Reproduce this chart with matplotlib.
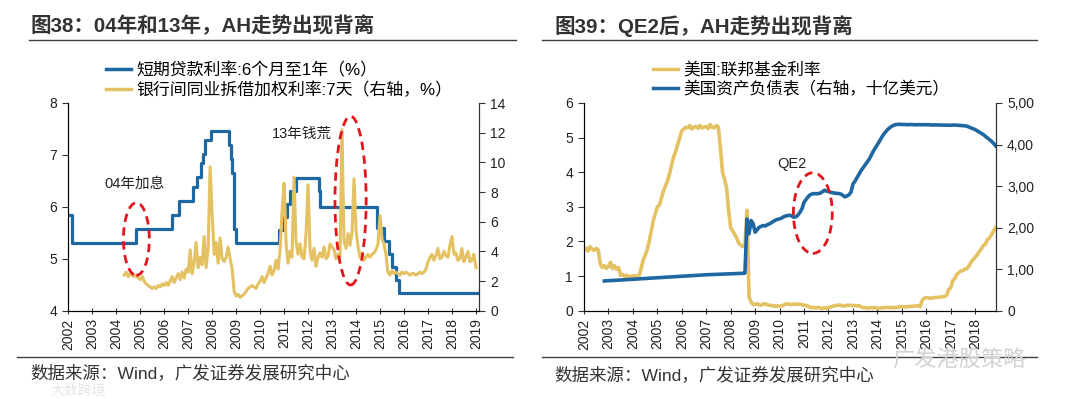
import numpy as np
import pandas as pd
import matplotlib
matplotlib.use("Agg")
import matplotlib.pyplot as plt
import matplotlib.dates as mdates
from matplotlib.patches import Ellipse
from matplotlib.lines import Line2D

plt.rcParams['font.family'] = ['Liberation Sans', 'Noto Sans CJK SC', 'DejaVu Sans']

# ---------------------------------------------------------------------------
# Dane – wykres lewy (Chiny)
# ---------------------------------------------------------------------------
loan_dates = ['2002-01-01', '2002-02-21', '2004-10-29', '2006-04-28', '2006-08-19',
              '2007-03-18', '2007-05-19', '2007-07-21', '2007-08-22', '2007-09-15',
              '2007-12-21', '2008-09-16', '2008-10-09', '2008-10-30', '2008-11-27',
              '2008-12-23', '2010-10-20', '2010-12-26', '2011-02-09', '2011-04-06',
              '2011-07-07', '2012-06-08', '2012-07-06', '2014-11-22', '2015-03-01',
              '2015-05-11', '2015-06-28', '2015-08-26', '2015-10-24', '2019-01-20']
loan_rate = [5.85, 5.31, 5.58, 5.85, 6.12, 6.39, 6.57, 6.84, 7.02, 7.29,
             7.47, 7.20, 6.93, 6.66, 5.58, 5.31, 5.56, 5.81, 6.06, 6.31,
             6.56, 6.31, 6.00, 5.60, 5.35, 5.10, 4.85, 4.60, 4.35, 4.35]

interbank_start = '2004-05-01'   # miesięcznie
interbank_rate = [
    2.4, 2.6, 2.3, 2.5, 2.4, 2.3, 2.4, 2.2,                          # 2004 V-XII
    2.1, 2.3, 2.0, 1.8, 1.7, 1.6, 1.5, 1.6, 1.5, 1.7, 1.6, 1.8,      # 2005
    1.7, 1.9, 1.7, 2.0, 2.3, 1.9, 2.2, 2.5, 2.1, 2.6, 2.2, 2.8,      # 2006
    2.6, 4.1, 2.5, 3.2, 4.6, 2.9, 3.6, 3.1, 5.0, 2.9, 4.2, 9.7,      # 2007
    6.5, 3.8, 4.6, 3.2, 4.9, 3.5, 3.3, 3.6, 4.3, 3.5, 2.8, 1.3,      # 2008
    1.0, 1.1, 0.9, 1.0, 1.1, 1.3, 1.5, 1.6, 1.7, 1.6, 1.5, 1.8,      # 2009
    2.0, 2.3, 1.9, 2.2, 2.5, 3.0, 2.4, 2.7, 3.4, 2.8, 4.1, 6.7,      # 2010
    8.6, 4.5, 3.2, 4.0, 3.6, 9.0, 4.7, 3.8, 4.5, 3.6, 3.5, 5.2,      # 2011
    8.5, 4.0, 3.4, 4.2, 3.0, 3.6, 3.9, 3.6, 4.3, 3.5, 3.7, 4.5,      # 2012
    4.3, 4.1, 3.5, 3.8, 3.6, 12.2, 4.7, 4.2, 5.2, 4.4, 5.3, 8.9,     # 2013
    5.4, 4.3, 3.6, 3.9, 3.4, 3.6, 3.8, 3.6, 3.8, 3.9, 4.1, 4.5,      # 2014
    6.4, 4.8, 4.5, 3.8, 2.6, 2.4, 2.7, 2.5, 2.6, 2.5, 2.4, 2.6,      # 2015
    2.5, 2.6, 2.5, 2.4, 2.5, 2.5, 2.4, 2.5, 2.6, 2.5, 2.6, 2.8,      # 2016
    3.3, 3.6, 3.8, 3.4, 3.7, 4.2, 3.5, 3.6, 4.0, 3.7, 3.6, 4.4,      # 2017
    5.0, 3.8, 3.9, 3.4, 3.5, 4.2, 3.3, 3.6, 4.0, 3.3, 3.4, 3.8,      # 2018
    2.9,                                                             # 2019 I
]

# ---------------------------------------------------------------------------
# Dane – wykres prawy (USA)
# ---------------------------------------------------------------------------
fed_start = '2002-01-01'   # miesięcznie
fed_funds = [
    1.75, 1.80, 1.72, 1.85, 1.78, 1.74, 1.80, 1.76, 1.35, 1.25, 1.30, 1.22,   # 2002
    1.28, 1.40, 1.22, 1.30, 1.20, 1.25, 1.02, 1.05, 0.98, 1.03, 0.96, 1.00,   # 2003
    1.00, 1.02, 0.98, 1.00, 1.20, 1.45, 1.60, 1.75, 2.00, 2.30, 2.60, 2.80,   # 2004
    3.00, 3.05, 3.25, 3.45, 3.60, 3.75, 3.95, 4.20, 4.45, 4.60, 4.80, 5.00,   # 2005
    5.20, 5.25, 5.30, 5.28, 5.35, 5.25, 5.30, 5.32, 5.27, 5.35, 5.28, 5.30,   # 2006
    5.32, 5.26, 5.38, 5.30, 5.28, 5.35, 5.30, 4.70, 4.00, 3.80, 3.55, 2.90,   # 2007
    2.40, 2.30, 2.20, 2.10, 1.95, 1.90, 1.85, 1.90, 2.90, 0.40, 0.25, 0.18,   # 2008
    0.18, 0.20, 0.17, 0.16, 0.19, 0.20, 0.17, 0.16, 0.15, 0.14, 0.13, 0.14,   # 2009
    0.13, 0.14, 0.16, 0.19, 0.20, 0.18, 0.18, 0.19, 0.19, 0.18, 0.19, 0.17,   # 2010
    0.16, 0.15, 0.13, 0.10, 0.09, 0.09, 0.08, 0.10, 0.08, 0.07, 0.08, 0.07,   # 2011
    0.09, 0.10, 0.13, 0.14, 0.16, 0.16, 0.16, 0.13, 0.14, 0.16, 0.15, 0.16,   # 2012
    0.14, 0.15, 0.14, 0.15, 0.11, 0.09, 0.09, 0.08, 0.08, 0.09, 0.08, 0.09,   # 2013
    0.07, 0.07, 0.08, 0.09, 0.09, 0.10, 0.09, 0.09, 0.09, 0.09, 0.09, 0.12,   # 2014
    0.11, 0.11, 0.11, 0.12, 0.12, 0.13, 0.13, 0.14, 0.14, 0.12, 0.30, 0.36,   # 2015
    0.38, 0.37, 0.36, 0.37, 0.38, 0.38, 0.39, 0.40, 0.40, 0.41, 0.45, 0.62,   # 2016
    0.66, 0.88, 0.92, 1.05, 1.10, 1.15, 1.16, 1.20, 1.22, 1.30, 1.40, 1.48,   # 2017
    1.55, 1.62, 1.70, 1.78, 1.88, 1.92, 2.05, 2.10, 2.20, 2.30, 2.40,         # 2018
]

balance_start = '2002-11-01'   # miesięcznie, mld USD
balance_sheet = [
    715, 720,                                                                 # 2002
    722, 724, 727, 730, 733, 736, 739, 742, 745, 748, 751, 754,               # 2003
    757, 760, 763, 766, 769, 772, 775, 778, 781, 784, 787, 790,               # 2004
    793, 796, 799, 802, 805, 808, 811, 814, 817, 820, 823, 826,               # 2005
    829, 832, 835, 838, 841, 844, 847, 850, 853, 856, 859, 862,               # 2006
    865, 867, 869, 871, 873, 875, 877, 879, 881, 883, 885, 887,               # 2007
    889, 891, 893, 895, 897, 899, 900, 905, 2210, 1850, 2170, 2100,           # 2008
    1890, 1950, 2010, 2030, 2050, 2040, 2070, 2090, 2120, 2150, 2180, 2200,   # 2009
    2210, 2230, 2260, 2280, 2290, 2300, 2280, 2250, 2260, 2300, 2370, 2450,   # 2010
    2610, 2680, 2740, 2790, 2810, 2820, 2815, 2820, 2830, 2860, 2900, 2880,   # 2011
    2870, 2850, 2840, 2830, 2825, 2820, 2810, 2780, 2740, 2760, 2790, 2850,   # 2012
    3050, 3120, 3200, 3290, 3370, 3440, 3510, 3580, 3650, 3740, 3840, 3920,   # 2013
    4000, 4080, 4160, 4240, 4300, 4360, 4400, 4440, 4460, 4480, 4485, 4490,   # 2014
    4480, 4485, 4480, 4478, 4482, 4480, 4478, 4475, 4480, 4478, 4476, 4480,   # 2015
    4475, 4478, 4472, 4470, 4474, 4470, 4472, 4468, 4470, 4466, 4468, 4465,   # 2016
    4465, 4468, 4470, 4466, 4462, 4460, 4455, 4450, 4440, 4420, 4400, 4380,   # 2017
    4360, 4330, 4300, 4270, 4240, 4200, 4160, 4120, 4080, 4030, 3970,         # 2018
]
balance_ticks = [0, 1000, 2000, 3000, 4000, 5000]
balance_labels = ['0', '1,00', '2,00', '3,00', '4,00', '5,00']

BLUE = '#1f67a0'
GOLD = '#e4c263'
RED = '#e3151c'
TXT = '#222222'


def yr(y):
    """Rok dziesiętny -> Timestamp."""
    return pd.Timestamp(int(y), 1, 1) + pd.Timedelta(days=(y - int(y)) * 365.25)


def style_axes(ax, axr, years):
    ax.spines['top'].set_visible(False)
    axr.spines['top'].set_visible(False)
    for sp in ['left', 'bottom']:
        ax.spines[sp].set_color('#333333')
    axr.spines['right'].set_color('#333333')
    ax.tick_params(axis='y', direction='out', length=4, pad=4, labelsize=10,
                   colors='#333333', labelcolor=TXT)
    axr.tick_params(axis='y', direction='out', length=4, pad=4, labelsize=10,
                    colors='#333333', labelcolor=TXT)
    ax.set_xticks([pd.Timestamp(y, 1, 1) for y in years])
    ax.xaxis.set_major_formatter(mdates.DateFormatter('%Y'))
    ax.tick_params(axis='x', direction='inout', length=5, pad=3, labelsize=10,
                   colors='#333333', labelcolor=TXT, labelrotation=90)


fig = plt.figure(figsize=(10.8, 3.99), dpi=100)
W, H = 1080.0, 399.0

# ---------------------------------------------------------------------------
# Lewy wykres
# ---------------------------------------------------------------------------
ax1 = fig.add_axes([68.3 / W, 1 - 310.7 / H, (479.3 - 68.3) / W, (310.7 - 103) / H])
ax1r = ax1.twinx()

ax1.plot(pd.to_datetime(loan_dates), loan_rate, color=BLUE, lw=2.3,
         drawstyle='steps-post')
ib_x = pd.date_range(interbank_start, periods=len(interbank_rate), freq='MS')
ax1r.plot(ib_x, interbank_rate, color=GOLD, lw=2.2)

ax1.set_ylim(4, 8)
ax1.set_yticks([4, 5, 6, 7, 8])
ax1r.set_ylim(0, 14)
ax1r.set_yticks(range(0, 15, 2))
ax1.set_xlim(pd.Timestamp('2002-01-01'), yr(2019.14))
style_axes(ax1, ax1r, range(2002, 2020))

for cx, cy, w, h in [(2004.84, 5.38, 1.08, 1.40), (2013.77, 6.12, 1.30, 3.25)]:
    ax1r.add_patch(Ellipse((mdates.date2num(yr(cx)), cy), w * 365.25, h,
                           transform=ax1.transData, fill=False, edgecolor=RED,
                           lw=2.0, linestyle=(0, (3, 2)), zorder=5))
ax1.text(yr(2003.51), 6.44, '04年加息', fontsize=10.5, color=TXT, va='center', ha='left')
ax1.text(yr(2010.50), 7.41, '13年钱荒', fontsize=10.5, color=TXT, va='center', ha='left')

# ---------------------------------------------------------------------------
# Prawy wykres
# ---------------------------------------------------------------------------
ax2 = fig.add_axes([584 / W, 1 - 310.7 / H, (996 - 584) / W, (310.7 - 103) / H])
ax2r = ax2.twinx()

fed_x = pd.date_range(fed_start, periods=len(fed_funds), freq='MS')
ax2.plot(fed_x, fed_funds, color=GOLD, lw=2.6)
bs_x = pd.date_range(balance_start, periods=len(balance_sheet), freq='MS')
ax2r.plot(bs_x, balance_sheet, color=BLUE, lw=2.6)

ax2.set_ylim(0, 6)
ax2.set_yticks(range(0, 7))
ax2r.set_ylim(0, 5000)
ax2r.set_yticks(balance_ticks)
ax2r.set_yticklabels(balance_labels)
ax2.set_xlim(pd.Timestamp('2002-01-01'), yr(2018.85))
style_axes(ax2, ax2r, range(2002, 2019))

ax2r.add_patch(Ellipse((mdates.date2num(yr(2011.36)), 2.82), 1.59 * 365.25, 2.33,
                       transform=ax2.transData, fill=False, edgecolor=RED,
                       lw=2.0, linestyle=(0, (3, 2)), zorder=5))
ax2.text(yr(2010.51), 4.23, 'QE2', fontsize=10.5, color=TXT, va='center', ha='center')

# ---------------------------------------------------------------------------
# Legendy
# ---------------------------------------------------------------------------
leg_kw = dict(loc='upper left', frameon=False, handlelength=1.5,
              handletextpad=0.3, labelspacing=0.2, borderpad=0, borderaxespad=0)
fig.legend([Line2D([], [], color=BLUE, lw=2.5), Line2D([], [], color=GOLD, lw=2.5)],
           ['短期贷款利率:6个月至1年（%）', '银行间同业拆借加权利率:7天（右轴，%）'],
           bbox_to_anchor=(106 / W, 1 - 62 / H), fontsize=12.2, **leg_kw)
fig.legend([Line2D([], [], color=GOLD, lw=2.5), Line2D([], [], color=BLUE, lw=2.5)],
           ['美国:联邦基金利率', '美国资产负债表（右轴，十亿美元）'],
           bbox_to_anchor=(653 / W, 1 - 62 / H), fontsize=12, **leg_kw)

# ---------------------------------------------------------------------------
# Tytuły, linie, źródła
# ---------------------------------------------------------------------------
fig.text(30 / W, 1 - 26 / H, '图38：04年和13年，AH走势出现背离', fontsize=14.8,
         fontweight='bold', color='#333333', va='center', ha='left')
fig.text(554 / W, 1 - 26 / H, '图39：QE2后，AH走势出现背离', fontsize=14.8,
         fontweight='bold', color='#333333', va='center', ha='left')

for x0, x1, y in [(29, 516, 40), (542, 1037, 40), (17, 513, 357), (542, 1037, 357)]:
    fig.add_artist(Line2D([x0 / W, x1 / W], [1 - y / H, 1 - y / H],
                          transform=fig.transFigure, color='#404040', lw=1.0))

fig.text(30 / W, 1 - 373 / H, '数据来源：Wind，广发证券发展研究中心', fontsize=12.6,
         color='#333333', va='center', ha='left')
fig.text(554 / W, 1 - 375 / H, '数据来源：Wind，广发证券发展研究中心', fontsize=12.6,
         color='#333333', va='center', ha='left')

# znaki wodne
fig.text(892 / W, 1 - 361 / H, '广发港股策略', fontsize=16, color='#d2d2d2',
         va='center', ha='left')
fig.text(50 / W, 1 - 391 / H, '大数跨境', fontsize=10, color='#e6e6e6',
         va='center', ha='left')

fig.savefig('out.png', dpi=100, facecolor='white')
